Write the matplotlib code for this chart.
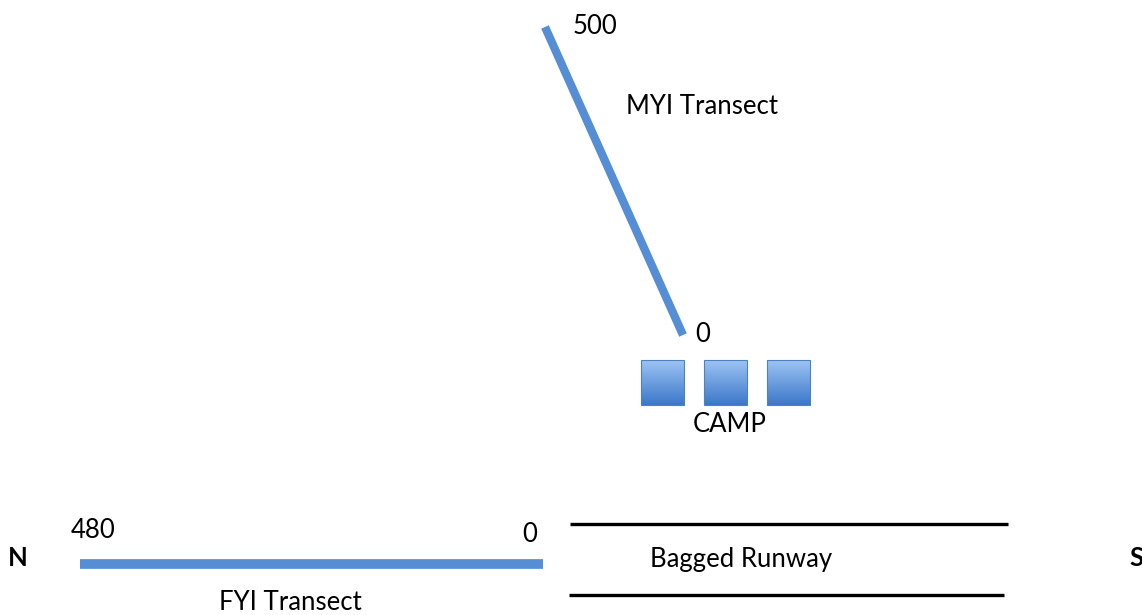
import numpy as np
import matplotlib
matplotlib.use('Agg')
import matplotlib.pyplot as plt
from matplotlib.colors import LinearSegmentedColormap
from matplotlib.patches import Rectangle

# diagram coordinates in pixel space (y down)
myi_x = [545, 683]
myi_y = [27, 335]
myi_labels = ["500", "0"]

fyi_x = [80, 543]
fyi_y = [564, 564]
fyi_labels = ["480", "0"]

runway_x = [[570, 1008], [569, 1004]]
runway_y = [[524, 524], [595, 595]]

camp_left = [641, 704, 767]
camp_top = 360
camp_size = (43, 45)

blue = '#558ED5'
font = 'Lato'

fig = plt.figure(figsize=(11.42, 6.15), dpi=100)
ax = fig.add_axes([0, 0, 1, 1])

# transects
ax.plot(myi_x, myi_y, color=blue, linewidth=6, solid_capstyle='butt')
ax.plot(fyi_x, fyi_y, color=blue, linewidth=7, solid_capstyle='butt')

# runway edges
for xs, ys in zip(runway_x, runway_y):
    ax.plot(xs, ys, color='black', linewidth=2.4, solid_capstyle='butt')

# camp boxes with vertical gradient
cmap = LinearSegmentedColormap.from_list('camp', ['#9DC3F5', '#3C78C8'])
grad = np.linspace(0, 1, 64).reshape(-1, 1)
w, h = camp_size
for x0 in camp_left:
    ax.imshow(grad, cmap=cmap, aspect='auto',
              extent=[x0, x0 + w, camp_top + h, camp_top], zorder=2)
    ax.add_patch(Rectangle((x0, camp_top), w, h, fill=False,
                           edgecolor='#4F81BD', linewidth=0.8, zorder=3))

ax.set_xlim(0, 1142)
ax.set_ylim(615, 0)
ax.axis('off')

fs = 18.5
ax.text(595, 26, myi_labels[0], fontsize=fs, family=font, va='center', ha='center')
ax.text(702, 106, "MYI Transect", fontsize=fs, family=font, va='center', ha='center')
ax.text(703, 335, myi_labels[1], fontsize=fs, family=font, va='center', ha='center')
ax.text(730, 424, "CAMP", fontsize=fs, family=font, va='center', ha='center')

ax.text(93, 531, fyi_labels[0], fontsize=fs, family=font, va='center', ha='center')
ax.text(530, 535, fyi_labels[1], fontsize=fs, family=font, va='center', ha='center')
ax.text(290, 603, "FYI Transect", fontsize=fs, family=font, va='center', ha='center')
ax.text(741, 559, "Bagged Runway", fontsize=fs, family=font, va='center', ha='center')

ax.text(18, 558, "N", fontsize=fs, family=font, fontweight='bold', va='center', ha='center')
ax.text(1129, 558, "S", fontsize=fs, family=font, fontweight='bold', va='center', ha='left')

fig.savefig('out.png', dpi=100, facecolor='white')
